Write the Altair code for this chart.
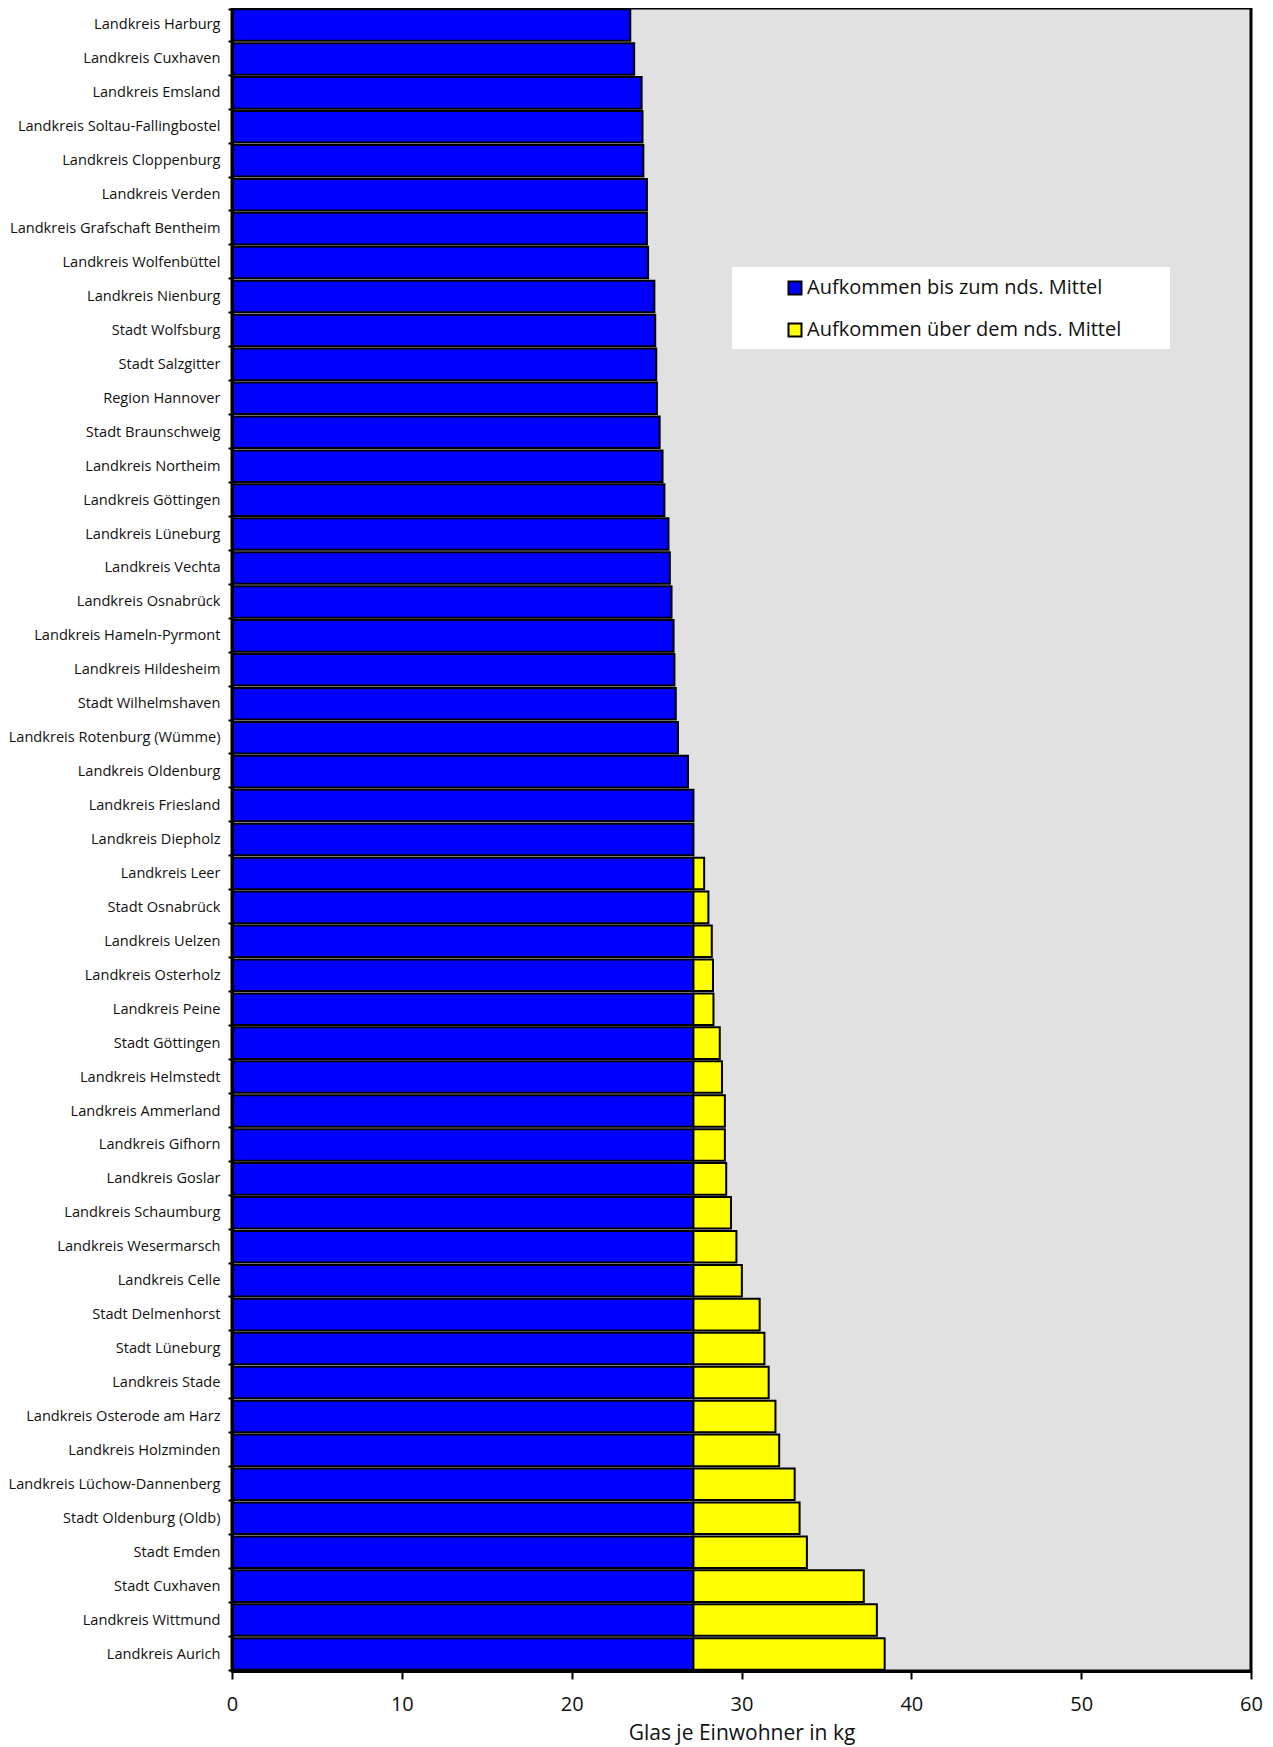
import altair as alt
import pandas as pd

names = [
    "Landkreis Harburg", "Landkreis Cuxhaven", "Landkreis Emsland",
    "Landkreis Soltau-Fallingbostel", "Landkreis Cloppenburg", "Landkreis Verden",
    "Landkreis Grafschaft Bentheim", "Landkreis Wolfenbüttel", "Landkreis Nienburg",
    "Stadt Wolfsburg", "Stadt Salzgitter", "Region Hannover", "Stadt Braunschweig",
    "Landkreis Northeim", "Landkreis Göttingen", "Landkreis Lüneburg",
    "Landkreis Vechta", "Landkreis Osnabrück", "Landkreis Hameln-Pyrmont",
    "Landkreis Hildesheim", "Stadt Wilhelmshaven", "Landkreis Rotenburg (Wümme)",
    "Landkreis Oldenburg", "Landkreis Friesland", "Landkreis Diepholz",
    "Landkreis Leer", "Stadt Osnabrück", "Landkreis Uelzen", "Landkreis Osterholz",
    "Landkreis Peine", "Stadt Göttingen", "Landkreis Helmstedt",
    "Landkreis Ammerland", "Landkreis Gifhorn", "Landkreis Goslar",
    "Landkreis Schaumburg", "Landkreis Wesermarsch", "Landkreis Celle",
    "Stadt Delmenhorst", "Stadt Lüneburg", "Landkreis Stade",
    "Landkreis Osterode am Harz", "Landkreis Holzminden",
    "Landkreis Lüchow-Dannenberg", "Stadt Oldenburg (Oldb)", "Stadt Emden",
    "Stadt Cuxhaven", "Landkreis Wittmund", "Landkreis Aurich",
]

values = [
    23.45, 23.68, 24.12, 24.17, 24.22, 24.43, 24.43, 24.50, 24.87,
    24.92, 24.98, 25.02, 25.18, 25.35, 25.46, 25.70, 25.78, 25.88,
    26.00, 26.05, 26.13, 26.26, 26.85, 27.17, 27.17, 27.80, 28.05,
    28.25, 28.32, 28.35, 28.72, 28.85, 29.02, 29.02, 29.10, 29.38,
    29.70, 30.02, 31.07, 31.35, 31.60, 32.00, 32.22, 33.13, 33.42,
    33.85, 37.20, 37.97, 38.43,
]

mean_value = 27.17

series = ["Aufkommen bis zum nds. Mittel", "Aufkommen über dem nds. Mittel"]
series_colors = ["#0000ff", "#ffff00"]
x_ticks = [0, 10, 20, 30, 40, 50, 60]

rows = []
for n, v in zip(names, values):
    rows.append({"name": n, "segment": series[0], "start": 0.0, "end": min(v, mean_value)})
    if v > mean_value:
        rows.append({"name": n, "segment": series[1], "start": mean_value, "end": v})
df = pd.DataFrame(rows)

FONT = "Open Sans"

bars = alt.Chart(df).mark_bar(stroke="black", strokeWidth=2, opacity=1).encode(
    y=alt.Y(
        "name:N",
        sort=names,
        title=None,
        scale=alt.Scale(paddingInner=0.07, paddingOuter=0.035),
        axis=alt.Axis(
            domainColor="black", domainWidth=3, tickColor="black", tickWidth=2,
            tickSize=4, tickBand="extent", labelFont=FONT, labelFontSize=14.6,
            labelColor="#111111", labelPadding=8, labelLimit=400, zindex=1,
        ),
    ),
    x=alt.X(
        "start:Q",
        scale=alt.Scale(domain=[0, 60], nice=False, zero=True),
        title="Glas je Einwohner in kg",
        axis=alt.Axis(
            values=x_ticks, domainColor="black", domainWidth=3, tickColor="black",
            tickWidth=2, tickSize=8, labelFont=FONT, labelFontSize=20,
            labelColor="#111111", labelPadding=15, labelFlush=False,
            titleFont=FONT, titleFontSize=21,
            titleFontWeight="normal", titleColor="#111111", titlePadding=8,
            grid=False, zindex=1,
        ),
    ),
    x2="end:Q",
    color=alt.Color(
        "segment:N",
        scale=alt.Scale(domain=series, range=series_colors),
        legend=alt.Legend(
            title=None, orient="none", legendX=553, legendY=270,
            symbolType="square", symbolSize=169, symbolStrokeColor="black",
            symbolStrokeWidth=2, labelFont=FONT, labelFontSize=20,
            labelColor="#111111", labelOffset=2, rowPadding=20, padding=0,
            labelLimit=500,
        ),
    ),
    order=alt.Order("segment:N"),
)

legend_box = alt.Chart(pd.DataFrame({"k": [0]})).mark_rect(fill="white").encode(
    x=alt.value(500), x2=alt.value(938), y=alt.value(259), y2=alt.value(341)
)

chart = alt.layer(bars, legend_box).properties(
    width=1019,
    height=1663,
    autosize=alt.AutoSizeParams(type="none"),
    padding={"left": 224, "top": 0, "right": 14, "bottom": 82},
    background="white",
).configure_view(
    fill="#e1e1e1", stroke="black", strokeWidth=3
)

chart.save("out.html", embed_options={"renderer": "svg", "actions": False})
